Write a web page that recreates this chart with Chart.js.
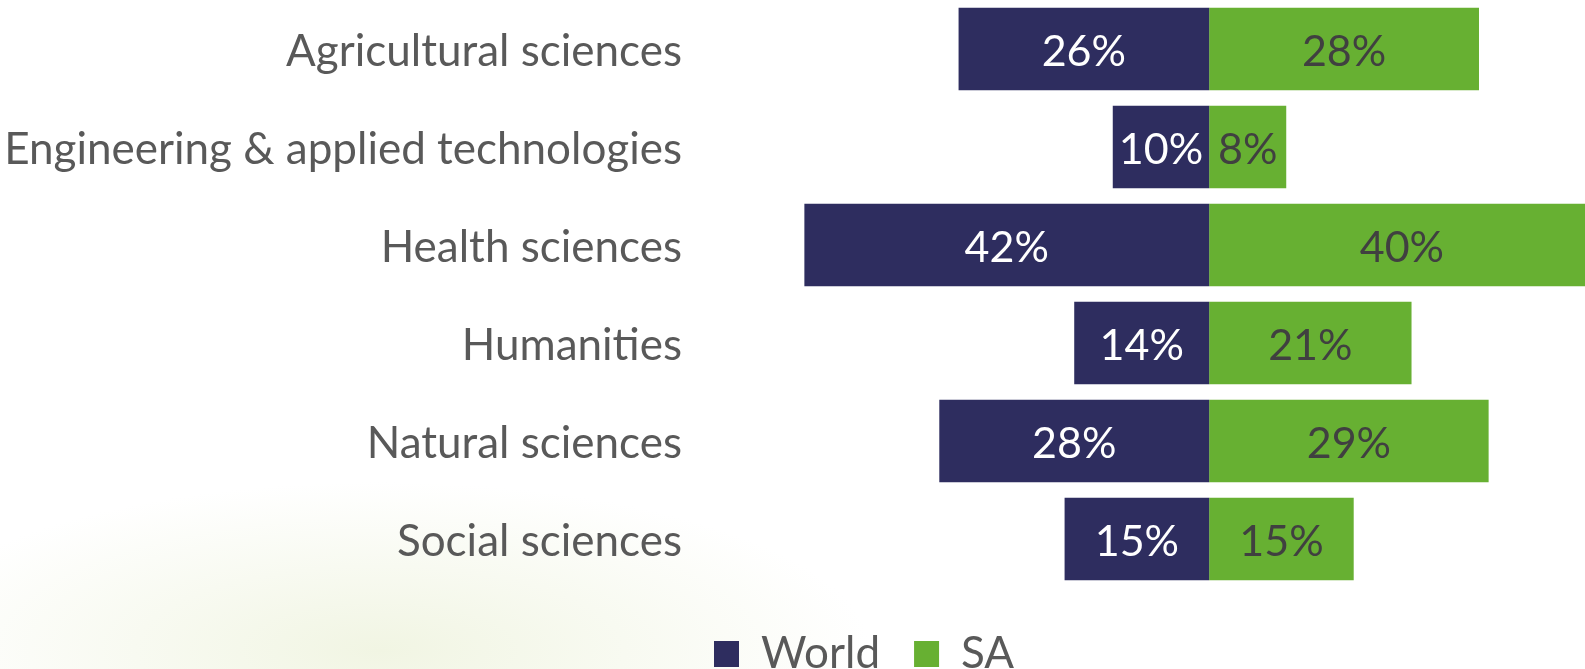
<!DOCTYPE html>
<html>
<head>
<meta charset="utf-8">
<script src="https://cdn.jsdelivr.net/npm/chart.js@4.4.1/dist/chart.umd.min.js"></script>
<style>
  html, body { margin: 0; padding: 0; }
  body {
    width: 1585px; height: 669px; overflow: hidden;
    background:
      radial-gradient(ellipse 700px 240px at 380px 650px, #f1f5e3 0%, rgba(255,255,255,0) 70%),
      #ffffff;
  }
  #wrap { position: relative; width: 1585px; height: 669px; }
</style>
</head>
<body>
<div id="wrap"><canvas id="chart"></canvas></div>
<script>
const categories = [
  "Agricultural sciences",
  "Engineering & applied technologies",
  "Health sciences",
  "Humanities",
  "Natural sciences",
  "Social sciences"
];
const worldValues = [26, 10, 42, 14, 28, 15];
const saValues = [28, 8, 40, 21, 29, 15];
const seriesNames = ["World", "SA"];

const FONT = "Lato, 'Open Sans', sans-serif";
const navy = "#2e2d5f";
const green = "#67b032";

// draws the percentage in the middle of each bar
const barLabels = {
  id: "barLabels",
  afterDatasetsDraw(chart) {
    const ctx = chart.ctx;
    ctx.save();
    ctx.font = "43px " + FONT;
    ctx.textAlign = "center";
    ctx.textBaseline = "middle";
    chart.data.datasets.forEach((ds, i) => {
      const meta = chart.getDatasetMeta(i);
      ctx.fillStyle = i === 0 ? "#ffffff" : "#404040";
      meta.data.forEach((bar, j) => {
        const v = Math.abs(ds.data[j]);
        ctx.fillText(v + "%", (bar.x + bar.base) / 2, bar.y + 3);
      });
    });
    ctx.restore();
  }
};

// move the legend under the bars like in the slide
const legendSpot = {
  id: "legendSpot",
  afterLayout(chart) {
    chart.legend.left = 680;
    chart.legend.top = 598;
  }
};

new Chart(document.getElementById("chart"), {
  type: "bar",
  data: {
    labels: categories,
    datasets: [
      {
        label: seriesNames[0],
        data: worldValues.map(v => -v),
        backgroundColor: navy,
        barPercentage: 0.84,
        categoryPercentage: 1
      },
      {
        label: seriesNames[1],
        data: saValues,
        backgroundColor: green,
        barPercentage: 0.84,
        categoryPercentage: 1
      }
    ]
  },
  options: {
    indexAxis: "y",
    responsive: true,
    maintainAspectRatio: false,
    animation: false,
    layout: { padding: { left: 0, right: 0, top: 0, bottom: -7 } },
    scales: {
      x: {
        stacked: true,
        min: -52,
        max: 39,
        display: false
      },
      y: {
        stacked: true,
        grid: { display: false, drawTicks: false },
        border: { display: false },
        ticks: {
          padding: 26,
          labelOffset: 3,
          color: "#595959",
          font: { family: FONT, size: 44 }
        },
        afterFit: s => {
          s.width = 708;
          s.paddingTop = 0;
          s.paddingBottom = 0;
        }
      }
    },
    plugins: {
      legend: {
        position: "bottom",
        align: "start",
        labels: {
          color: "#595959",
          font: { family: FONT, size: 44 },
          boxWidth: 25,
          boxHeight: 26,
          padding: 34
        }
      },
      tooltip: {
        callbacks: {
          label: c => c.dataset.label + ": " + Math.abs(c.raw) + "%"
        }
      }
    }
  },
  plugins: [barLabels, legendSpot]
});
</script>
</body>
</html>
